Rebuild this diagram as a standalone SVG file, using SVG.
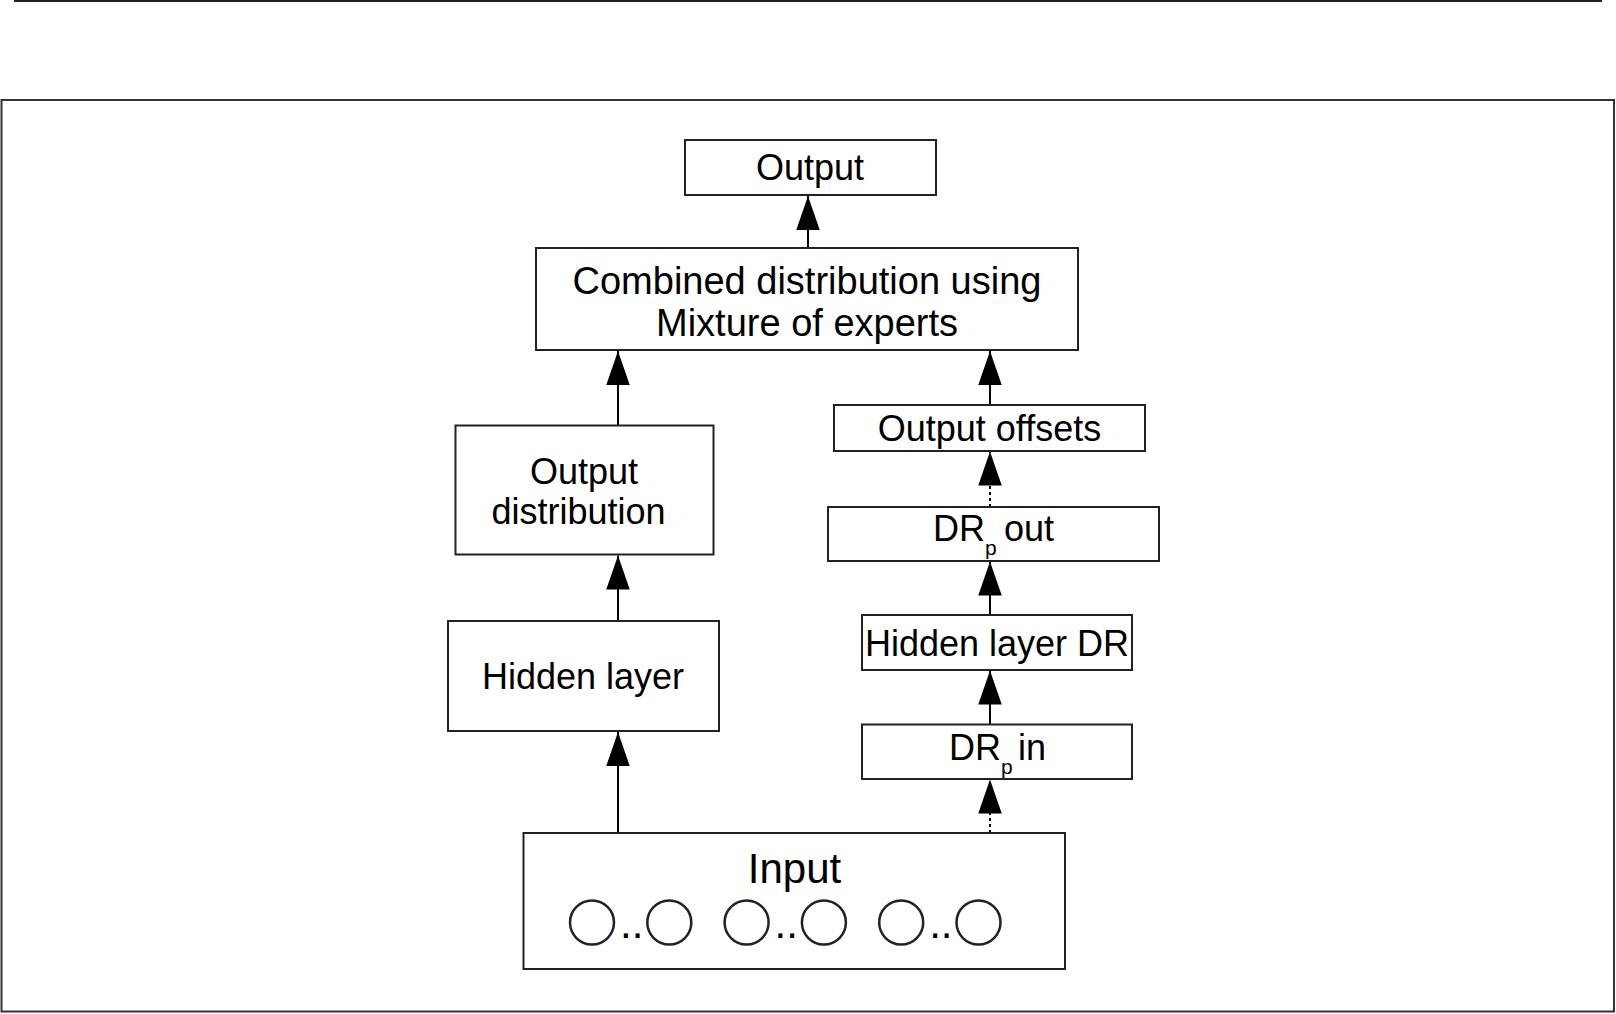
<svg xmlns="http://www.w3.org/2000/svg" width="1616" height="1014" viewBox="0 0 1616 1014">
<defs>
<marker id="ah" markerUnits="userSpaceOnUse" markerWidth="34" markerHeight="24" refX="34" refY="11.75" orient="auto" viewBox="0 0 34 23.5">
<path d="M0,0 L34,11.75 L0,23.5 Z" fill="#000"/>
</marker>
<style>
.box{fill:#fff;stroke:#222;stroke-width:2}
.t{font-family:"Liberation Sans",Arial,sans-serif;font-size:36px;fill:#000}
.c{text-anchor:middle}
.lg{font-size:38px}
.sub{font-family:"Liberation Sans",Arial,sans-serif;font-size:21px;fill:#000}
.big{font-family:"Liberation Sans",Arial,sans-serif;font-size:42px;fill:#000}
.edge{stroke:#000;stroke-width:2;fill:none;marker-end:url(#ah)}
.dot{stroke-dasharray:3 3}
.circ{fill:none;stroke:#222;stroke-width:2.5}
</style>
</defs>
<rect x="14" y="0" width="1588" height="2" fill="#222"/>
<rect x="1.5" y="100" width="1612.5" height="911.5" fill="none" stroke="#333" stroke-width="2"/>

<g id="connectors">
<line class="edge" x1="808" y1="248" x2="808" y2="196"/>
<line class="edge" x1="618" y1="425.5" x2="618" y2="351"/>
<line class="edge" x1="990" y1="405" x2="990" y2="351"/>
<line class="edge" x1="618" y1="621" x2="618" y2="555.5"/>
<line class="edge" x1="618" y1="833" x2="618" y2="732"/>
<line class="edge dot" x1="990" y1="507" x2="990" y2="451.5"/>
<line class="edge" x1="990" y1="615" x2="990" y2="561.5"/>
<line class="edge" x1="990" y1="724.5" x2="990" y2="670.5"/>
<line class="edge dot" x1="990" y1="833" x2="990" y2="779.5"/>
</g>

<g id="output">
<rect class="box" x="685" y="140" width="251" height="55"/>
<text class="t c" x="810" y="180">Output</text>
</g>
<g id="combined">
<rect class="box" x="536" y="248" width="542" height="102"/>
<text class="t c lg" x="807" y="294">Combined distribution using</text>
<text class="t c lg" x="807" y="335.5">Mixture of experts</text>
</g>
<g id="output-distribution">
<rect class="box" x="455.5" y="425.5" width="258" height="129"/>
<text class="t c" x="584" y="484">Output</text>
<text class="t c" x="578.5" y="523.5">distribution</text>
</g>
<g id="hidden-layer">
<rect class="box" x="448" y="621" width="271" height="110"/>
<text class="t c" x="583" y="688.5">Hidden layer</text>
</g>
<g id="output-offsets">
<rect class="box" x="834" y="405" width="311" height="46"/>
<text class="t c" x="989.5" y="441">Output offsets</text>
</g>
<g id="drp-out">
<rect class="box" x="828" y="507" width="331" height="54"/>
<text class="t" x="933" y="541">DR</text>
<text class="sub" x="985" y="555">p</text>
<text class="t" x="1004" y="541">out</text>
</g>
<g id="hidden-layer-dr">
<rect class="box" x="862" y="615" width="270" height="55"/>
<text class="t c" x="997" y="655.5">Hidden layer DR</text>
</g>
<g id="drp-in">
<rect class="box" x="862" y="724.5" width="270" height="54.5"/>
<text class="t" x="949" y="759.5">DR</text>
<text class="sub" x="1001" y="773.5">p</text>
<text class="t" x="1018" y="759.5">in</text>
</g>
<g id="input">
<rect class="box" x="523.5" y="833" width="541.5" height="136"/>
<text class="big c" x="794.5" y="883">Input</text>
<circle class="circ" cx="592" cy="922.5" r="22"/>
<circle class="circ" cx="669.3" cy="922.5" r="22"/>
<circle class="circ" cx="746.6" cy="922.5" r="22"/>
<circle class="circ" cx="823.9" cy="922.5" r="22"/>
<circle class="circ" cx="901.2" cy="922.5" r="22"/>
<circle class="circ" cx="978.5" cy="922.5" r="22"/>
<text class="big" x="620" y="937.5">..</text>
<text class="big" x="774.6" y="937.5">..</text>
<text class="big" x="929.2" y="937.5">..</text>
</g>
</svg>
